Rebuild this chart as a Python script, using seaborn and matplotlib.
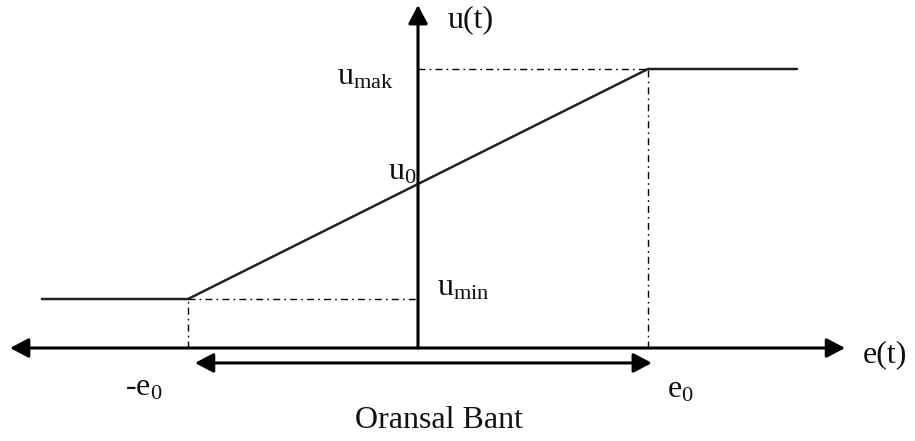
import matplotlib
matplotlib.use("Agg")
import matplotlib.pyplot as plt
import seaborn as sns
import pandas as pd
import numpy as np

# ---- data (e0 = 1 unit) ----
e_curve = [-1.635, -1.0, 1.0, 1.648]          # saturation extents and break points
u_curve = [0.213, 0.213, 1.213, 1.213]        # u_min, u_min, u_mak, u_mak
e_breaks = [-1.0, 1.0]                        # -e0, e0
u_levels = [0.213, 1.213]                     # u_min, u_mak
axis_x = [-1.774, 1.857]                      # horizontal axis arrow tips
axis_u_top = 1.491                            # vertical axis arrow tip
band_x = [-0.970, 1.017]                      # "Oransal Bant" arrow ends
band_y = -0.065

sns.set_style("white")
plt.rcParams['font.family'] = ['Liberation Serif', 'DejaVu Serif']
plt.rcParams['mathtext.fontset'] = 'custom'
plt.rcParams['mathtext.rm'] = 'Liberation Serif'
plt.rcParams['mathtext.it'] = 'Liberation Serif:italic'

W, H = 915, 441
fig = plt.figure(figsize=(W / 100, H / 100), dpi=100)
ax = fig.add_axes([0, 0, 1, 1])
S, OX, OY = 230.0, 418.0, 348.0
ax.set_xlim(-OX / S, (W - OX) / S)
ax.set_ylim(-(H - OY) / S, OY / S)
ax.set_axis_off()

def px(x, y):
    return ((x - OX) / S, (OY - y) / S)

# characteristic curve
df = pd.DataFrame({"e": e_curve, "u": u_curve})
sns.lineplot(data=df, x="e", y="u", sort=False, estimator=None, color="#222222", lw=1.8, ax=ax)

# dash-dot guides
dd = dict(color="black", lw=1.0, linestyle=(0, (5, 3, 1.2, 3)))
ax.plot([e_breaks[0], 0], [u_levels[0], u_levels[0]], **dd)
ax.plot([0, e_breaks[1]], [u_levels[1], u_levels[1]], **dd)
ax.plot([e_breaks[0], e_breaks[0]], [0, u_levels[0]], **dd)
ax.plot([e_breaks[1], e_breaks[1]], [0, u_levels[1]], **dd)

# axes arrows
ap = dict(color="black", lw=2.2, mutation_scale=14, shrinkA=0, shrinkB=0)
hs = "head_length=0.8,head_width=0.42"
ax.annotate("", xy=(axis_x[1], 0), xytext=(axis_x[0], 0),
            arrowprops=dict(arrowstyle="<|-|>," + hs, **ap))
ax.annotate("", xy=(0, axis_u_top), xytext=(0, 0),
            arrowprops=dict(arrowstyle="-|>," + hs, **ap))
ax.annotate("", xy=(band_x[1], band_y), xytext=(band_x[0], band_y),
            arrowprops=dict(arrowstyle="<|-|>," + hs, **ap))

fs = 23
def label(x, y, s):
    ax.text(*px(x, y), s, fontsize=fs, ha="left", va="baseline", color="#111111")

label(448, 27, "u(t)")
label(337, 85, r"$\mathrm{u}_{\mathrm{mak}}$")
label(388, 180, r"$\mathrm{u}_{0}$")
label(437, 295, r"$\mathrm{u}_{\mathrm{min}}$")
label(125, 395, r"-$\mathrm{e}_{0}$")
label(667, 397, r"$\mathrm{e}_{0}$")
label(863, 362, "e(t)")
label(355, 428, "Oransal Bant")

fig.savefig("out.png", dpi=100, facecolor="white")
